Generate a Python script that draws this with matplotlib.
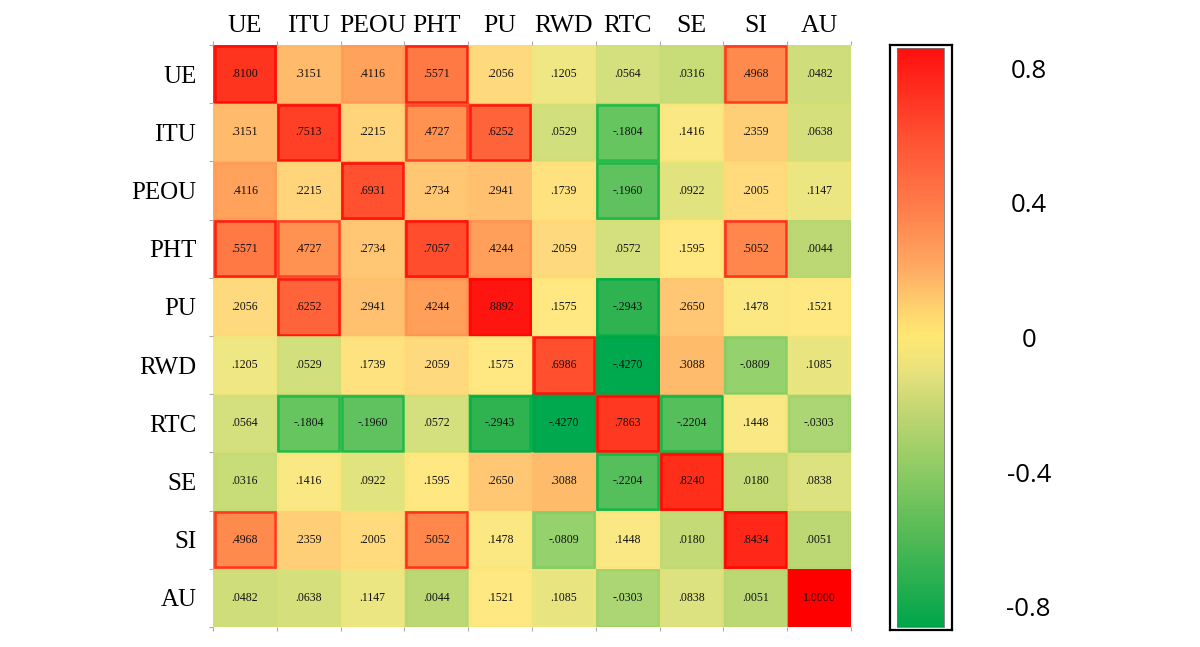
import numpy as np
import matplotlib
matplotlib.use("Agg")
import matplotlib.pyplot as plt
from matplotlib.colors import LinearSegmentedColormap, Normalize
from matplotlib.patches import Rectangle
import matplotlib.cm as cm

labels = ["UE", "ITU", "PEOU", "PHT", "PU", "RWD", "RTC", "SE", "SI", "AU"]

row_UE   = [.8100, .3151, .4116, .5571, .2056, .1205, .0564, .0316, .4968, .0482]
row_ITU  = [.3151, .7513, .2215, .4727, .6252, .0529, -.1804, .1416, .2359, .0638]
row_PEOU = [.4116, .2215, .6931, .2734, .2941, .1739, -.1960, .0922, .2005, .1147]
row_PHT  = [.5571, .4727, .2734, .7057, .4244, .2059, .0572, .1595, .5052, .0044]
row_PU   = [.2056, .6252, .2941, .4244, .8892, .1575, -.2943, .2650, .1478, .1521]
row_RWD  = [.1205, .0529, .1739, .2059, .1575, .6986, -.4270, .3088, -.0809, .1085]
row_RTC  = [.0564, -.1804, -.1960, .0572, -.2943, -.4270, .7863, -.2204, .1448, -.0303]
row_SE   = [.0316, .1416, .0922, .1595, .2650, .3088, -.2204, .8240, .0180, .0838]
row_SI   = [.4968, .2359, .2005, .5052, .1478, -.0809, .1448, .0180, .8434, .0051]
row_AU   = [.0482, .0638, .1147, .0044, .1521, .1085, -.0303, .0838, .0051, 1.0000]

cbar_ticks = [0.8, 0.4, 0.0, -0.4, -0.8]
cbar_ticklabels = ["0.8", "0.4", "0", "-0.4", "-0.8"]

data = np.array([row_UE, row_ITU, row_PEOU, row_PHT, row_PU,
                 row_RWD, row_RTC, row_SE, row_SI, row_AU])

def mk(nodes, vmin, vmax, name):
    pts = [((v - vmin) / (vmax - vmin), tuple(c / 255 for c in col)) for v, col in nodes]
    return LinearSegmentedColormap.from_list(name, pts)

# cell fill colormap
cell_min, cell_max = -0.43, 1.0
cell_nodes = [
    (-0.43, (0, 168, 78)), (-0.30, (45, 178, 80)), (-0.19, (100, 196, 95)),
    (-0.08, (150, 210, 110)), (-0.03, (172, 214, 115)), (0.00, (186, 216, 116)),
    (0.03, (200, 220, 120)), (0.06, (212, 224, 125)), (0.10, (228, 228, 128)),
    (0.13, (244, 232, 132)), (0.155, (255, 232, 130)), (0.20, (255, 218, 126)),
    (0.24, (255, 206, 120)), (0.30, (255, 190, 110)), (0.41, (255, 162, 92)),
    (0.50, (255, 137, 76)), (0.56, (255, 120, 68)), (0.63, (255, 97, 56)),
    (0.70, (255, 80, 48)), (0.75, (255, 64, 38)), (0.81, (255, 52, 30)),
    (0.84, (255, 40, 25)), (0.89, (255, 22, 15)), (1.00, (255, 0, 0)),
]
cell_cmap = mk(cell_nodes, cell_min, cell_max, "cell")
cell_norm = Normalize(cell_min, cell_max, clip=True)

edge_nodes = [
    (-0.43, (0, 165, 70)), (-0.29, (0, 175, 70)), (-0.18, (30, 185, 70)),
    (-0.08, (135, 207, 100)), (0.0, (182, 214, 112)), (0.05, (208, 222, 118)),
    (0.12, (242, 230, 125)), (0.16, (255, 230, 122)), (0.25, (255, 202, 115)),
    (0.35, (255, 178, 100)), (0.42, (255, 150, 85)), (0.47, (255, 60, 35)),
    (0.55, (255, 20, 10)), (1.00, (255, 0, 0)),
]
edge_cmap = mk(edge_nodes, cell_min, cell_max, "edge")

# colorbar colormap
cb_min, cb_max = -0.86, 0.86
cb_nodes = [
    (-0.86, (0, 165, 75)), (-0.6, (80, 185, 85)), (-0.4, (140, 202, 100)),
    (-0.2, (200, 216, 115)), (-0.1, (232, 226, 125)), (0.0, (255, 232, 115)),
    (0.08, (255, 212, 110)), (0.2, (255, 172, 100)), (0.4, (255, 122, 72)),
    (0.6, (255, 80, 50)), (0.86, (255, 15, 15)),
]
cb_cmap = mk(cb_nodes, cb_min, cb_max, "cb")

W, H = 1200, 647
fig = plt.figure(figsize=(W / 100, H / 100), dpi=100)

def axrect(x0, y0, x1, y1):
    return [x0 / W, 1 - y1 / H, (x1 - x0) / W, (y1 - y0) / H]

ax = fig.add_axes(axrect(213, 45, 851, 627))
n = len(labels)
ax.pcolormesh(np.arange(n + 1), np.arange(n + 1), data, cmap=cell_cmap, norm=cell_norm,
              edgecolors="none")
for i in range(n):
    for j in range(n):
        v = data[i, j]
        ax.add_patch(Rectangle((j + 0.025, i + 0.025), 0.95, 0.95, fill=False,
                               edgecolor=edge_cmap(cell_norm(v)), linewidth=1.8, alpha=0.9))
        s = f"{v:.4f}"
        s = s.replace("0.", ".", 1) if abs(v) < 1 else s
        ax.text(j + 0.5, i + 0.5, s, ha="center", va="center", fontsize=8.5,
                family="Liberation Serif", color="#111111")
ax.set_xlim(0, n)
ax.set_ylim(n, 0)
for sp in ax.spines.values():
    sp.set_visible(False)
ax.set_xticks(np.arange(n) + 0.5)
ax.set_xticklabels(labels, fontsize=18.5, family="Liberation Serif")
ax.set_yticks(np.arange(n) + 0.5)
ax.set_yticklabels(labels, fontsize=18, family="Liberation Serif")
ax.xaxis.tick_top()
ax.tick_params(axis="both", which="major", length=0)
ax.tick_params(axis="x", pad=6)
ax.tick_params(axis="y", pad=12)
ax.set_xticks(np.arange(n + 1), minor=True)
ax.set_yticks(np.arange(n + 1), minor=True)
ax.tick_params(which="minor", length=3, color="#aaaaaa", width=0.8,
               top=True, bottom=True, left=True, right=False)

# colorbar frame
fax = fig.add_axes(axrect(890, 45, 952, 630))
fax.set_xticks([]); fax.set_yticks([])
for sp in fax.spines.values():
    sp.set_linewidth(1.6)
    sp.set_color("black")

cax = fig.add_axes(axrect(897, 48, 944, 627))
sm = cm.ScalarMappable(norm=Normalize(cb_min, cb_max), cmap=cb_cmap)
cbar = fig.colorbar(sm, cax=cax)
cbar.outline.set_edgecolor("#777777")
cbar.outline.set_linewidth(0.6)
cbar.set_ticks(cbar_ticks)
cbar.set_ticklabels(cbar_ticklabels)
cax.tick_params(length=0, pad=61, labelsize=18.5)
for t in cax.get_yticklabels():
    t.set_horizontalalignment("center")
    t.set_family("Open Sans")

fig.savefig("out.png", dpi=100)
